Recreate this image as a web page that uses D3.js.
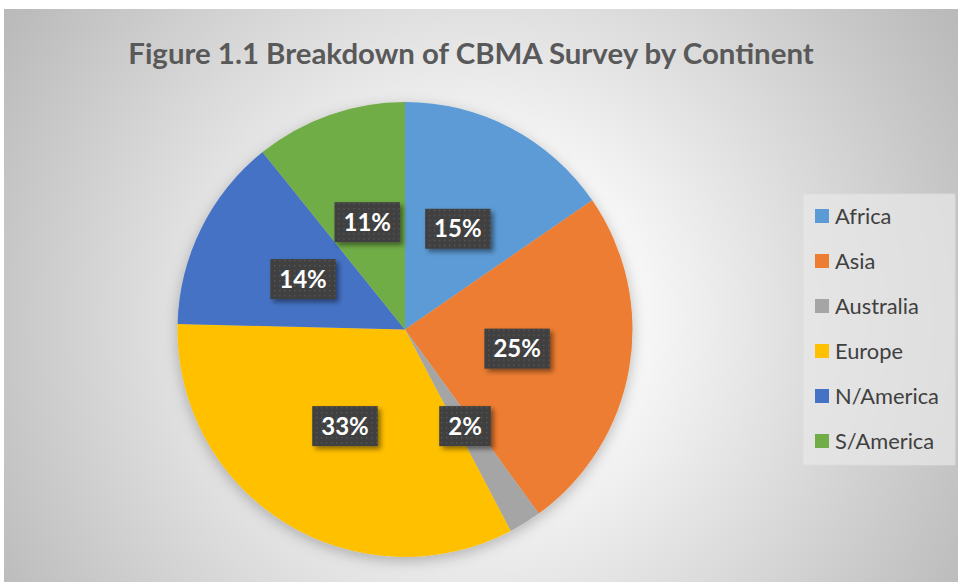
<!DOCTYPE html>
<html>
<head>
<meta charset="utf-8">
<script src="https://cdn.jsdelivr.net/npm/d3@7"></script>
<style>
  body { margin: 0; background: #fff; }
  svg { display: block; }
</style>
</head>
<body>
<div id="wrapper"></div>
<script>
// data
const continents = ["Africa", "Asia", "Australia", "Europe", "N/America", "S/America"];
const counts = [20, 32, 3, 43, 18, 14];
const colors = ["#5B9BD5", "#ED7D31", "#A5A5A5", "#FFC000", "#4472C4", "#70AD47"];
const title = "Figure 1.1 Breakdown of CBMA Survey by Continent";

const width = 958;
const height = 582;
const font = "Lato, 'Open Sans', sans-serif";

let dimensions = {
    left: 4,
    top: 9,
    cx: 405,
    cy: 329.5,
    radius: 227.5,
}

const dataset = continents.map((c, i) => ({ name: c, count: counts[i], color: colors[i] }));
const total = d3.sum(counts);

const svg = d3.select("#wrapper")
    .append("svg")
    .attr("width", width)
    .attr("height", height);

const defs = svg.append("defs");

// background gradient
const bg = defs.append("radialGradient")
    .attr("id", "bg")
    .attr("gradientUnits", "userSpaceOnUse")
    .attr("cx", 480).attr("cy", 320)
    .attr("r", 560);
bg.append("stop").attr("offset", "0%").attr("stop-color", "#ffffff");
bg.append("stop").attr("offset", "30%").attr("stop-color", "#f6f6f6");
bg.append("stop").attr("offset", "100%").attr("stop-color", "#bababa");

// pie shadow
const pieShadow = defs.append("filter")
    .attr("id", "pieShadow")
    .attr("x", "-20%").attr("y", "-20%").attr("width", "140%").attr("height", "140%");
pieShadow.append("feDropShadow")
    .attr("dx", 0).attr("dy", 4)
    .attr("stdDeviation", 7)
    .attr("flood-color", "#000").attr("flood-opacity", 0.25);

const boxShadow = defs.append("filter")
    .attr("id", "boxShadow")
    .attr("x", "-30%").attr("y", "-30%").attr("width", "160%").attr("height", "160%");
boxShadow.append("feDropShadow")
    .attr("dx", 3).attr("dy", 3)
    .attr("stdDeviation", 2.5)
    .attr("flood-color", "#000").attr("flood-opacity", 0.45);

// dotted texture for label boxes
const pat = defs.append("pattern")
    .attr("id", "dots")
    .attr("patternUnits", "userSpaceOnUse")
    .attr("width", 5).attr("height", 5);
pat.append("rect").attr("width", 5).attr("height", 5).attr("fill", "#404040");
pat.append("rect").attr("x", 1).attr("y", 1).attr("width", 1.3).attr("height", 1.3).attr("fill", "#5a5a5a");

svg.append("rect")
    .attr("x", dimensions.left)
    .attr("y", dimensions.top)
    .attr("width", width - dimensions.left)
    .attr("height", height - dimensions.top)
    .attr("fill", "url(#bg)");

// title
const titleText = svg.append("text")
    .attr("x", 471)
    .attr("y", 64)
    .attr("text-anchor", "middle")
    .attr("font-family", font)
    .attr("font-weight", "bold")
    .attr("font-size", 26)
    .attr("fill", "#595959")
    .text(title);
// fit title to the reference width
const tw = titleText.node().getComputedTextLength();
titleText.attr("font-size", 26 * 686 / tw);

// pie
const pie = d3.pie().sort(null).value(d => d.count);
const arcs = pie(dataset);
const arc = d3.arc().innerRadius(0).outerRadius(dimensions.radius);

const bounds = svg.append("g")
    .attr("transform", `translate(${dimensions.cx},${dimensions.cy})`);

bounds.append("g")
    .attr("filter", "url(#pieShadow)")
    .selectAll("path")
    .data(arcs)
    .enter()
    .append("path")
    .attr("d", arc)
    .attr("fill", d => d.data.color);

// data labels
const labels = bounds.append("g")
    .selectAll("g")
    .data(arcs)
    .enter()
    .append("g")
    .attr("transform", d => `translate(${arc.centroid(d)})`);

labels.append("text")
    .attr("text-anchor", "middle")
    .attr("dy", "0.36em")
    .attr("font-family", font)
    .attr("font-weight", "bold")
    .attr("font-size", 24)
    .attr("fill", "#ffffff")
    .text(d => Math.round(d.data.count / total * 100) + "%")
    .each(function () {
        const w = this.getComputedTextLength() + 18;
        d3.select(this.parentNode).insert("rect", "text")
            .attr("x", -w / 2)
            .attr("y", -20)
            .attr("width", w)
            .attr("height", 40)
            .attr("fill", "url(#dots)")
            .attr("filter", "url(#boxShadow)");
    });

// legend
const legend = svg.append("g");
legend.append("rect")
    .attr("x", 803)
    .attr("y", 194)
    .attr("width", 152)
    .attr("height", 271)
    .attr("fill", "#e8e8e8")
    .attr("fill-opacity", 0.7)
    .attr("stroke", "#dcdcdc")
    .attr("stroke-width", 0.8);

const rowY = d3.scalePoint()
    .domain(continents)
    .range([216, 441]);

const rows = legend.selectAll("g")
    .data(dataset)
    .enter()
    .append("g")
    .attr("transform", d => `translate(815,${rowY(d.name)})`);

rows.append("rect")
    .attr("x", 0)
    .attr("y", -7)
    .attr("width", 14)
    .attr("height", 14)
    .attr("fill", d => d.color);

const legendText = rows.append("text")
    .attr("x", 20)
    .attr("dy", "0.36em")
    .attr("font-family", font)
    .attr("font-size", 20)
    .attr("fill", "#404040")
    .text(d => d.name);

// fit legend font so that the widest entry matches the reference
const lw = d3.max(legendText.nodes(), n => n.getComputedTextLength());
legendText.attr("font-size", 20 * 104 / lw);
</script>
</body>
</html>
